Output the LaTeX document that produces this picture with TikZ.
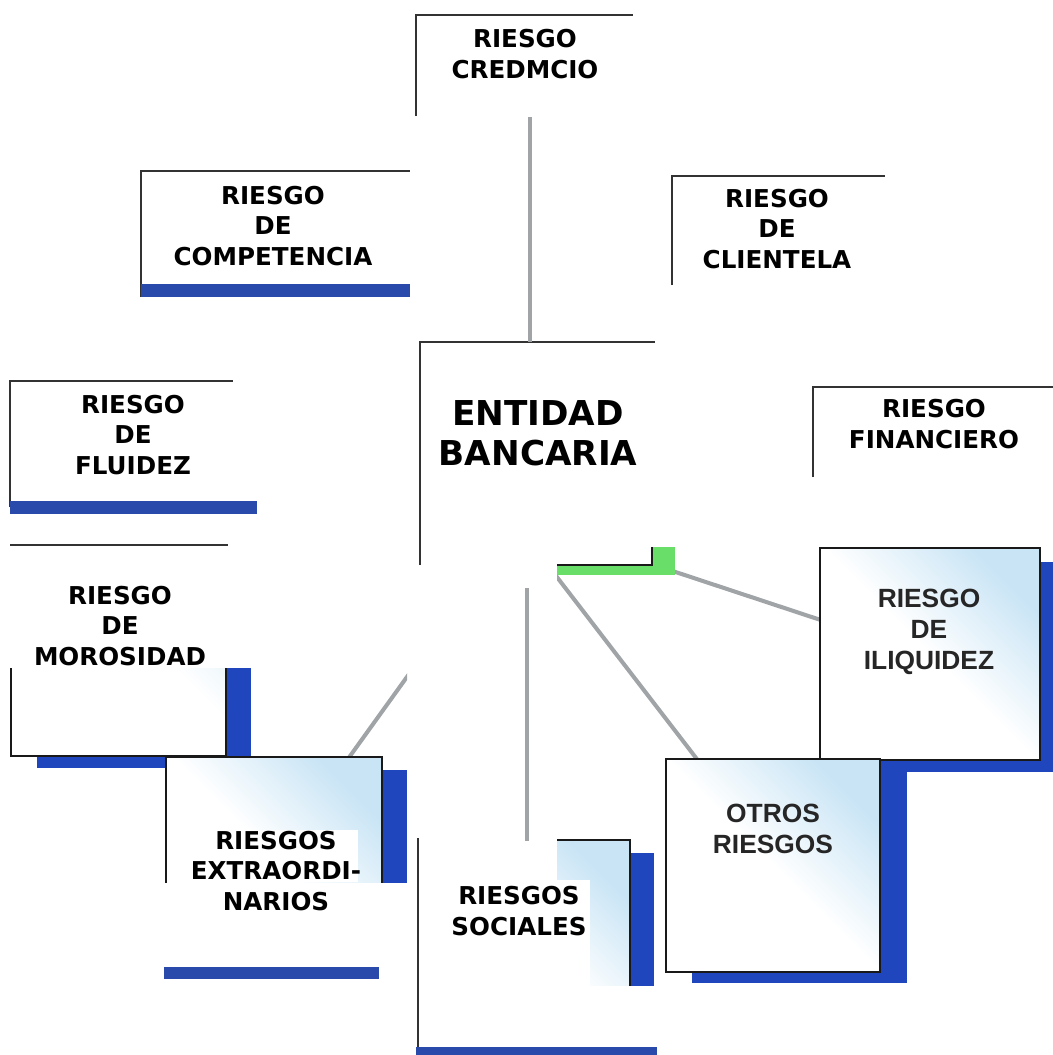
\documentclass[tikz,border=0pt]{standalone}
\usepackage{fontspec}
\setmainfont{DejaVu Sans}
\newfontfamily\scanfont{Liberation Sans}
\usetikzlibrary{fit}

\definecolor{bandblue}{RGB}{41,74,170}
\definecolor{shadeblue}{RGB}{32,70,190}
\definecolor{linkgray}{RGB}{160,164,167}
\definecolor{cornergreen}{RGB}{105,222,105}
\definecolor{paleblue}{RGB}{200,228,245}

\begin{document}
\begin{tikzpicture}[
    x=0.02cm, y=-0.02cm,
    risk/.style={font=\bfseries\fontsize{14}{17.5}\selectfont, align=center, inner sep=0pt},
    core/.style={font=\bfseries\fontsize{19.5}{23}\selectfont, align=center, inner sep=0pt},
    scanned/.style={font=\scanfont\bfseries\fontsize{15}{17.5}\selectfont, align=center, inner sep=0pt, text=black!85},
    openframe/.style={draw=black!80, line width=0.9pt},
    band/.style={fill=bandblue},
    blueshade/.style={fill=shadeblue},
    link/.style={draw=linkgray, line width=2.6pt},
    scanlink/.style={draw=linkgray, line width=2.3pt},
    card/.style={draw=black!90, line width=0.9pt, inner sep=0pt,
        top color=paleblue, bottom color=white, middle color=white, shading angle=-45}
]
\useasboundingbox (0,0) rectangle (1053,1055);

% Open frames
\draw[openframe] (416,116) |- (633,15);
\draw[openframe] (141,297) |- (410,171);
\draw[openframe] (672,285) |- (885,176);
\draw[openframe] (10,507) |- (233,381);
\draw[openframe] (813,477) |- (1053,387);
\draw[openframe] (420,565) |- (655,342);
\draw[openframe] (10,545) -- (228,545);
\draw[openframe] (418,1048) -- (418,838);

% Blue bands
\fill[band] (141,284) rectangle (410,297);
\fill[band] (10,501) rectangle (257,514);
\fill[band] (164,967) rectangle (379,979);
\fill[band] (416,1047) rectangle (657,1055);

% Stems
\coordinate (credit-foot) at (530,117);
\coordinate (bank-head) at (530,342);
\coordinate (bank-foot) at (527,588);
\coordinate (social-head) at (527,841);
\draw[link] (credit-foot) -- (bank-head);
\draw[link] (bank-foot) -- (social-head);

% Left scanned piece
\begin{scope}
  \clip (10,668) rectangle (407,882);
  \coordinate (extra-tie) at (340,770);
  \coordinate (extra-far) at (440,631);
  \draw[scanlink] (extra-far) -- (extra-tie);
  \fill[blueshade] (37,572) rectangle (251,768);
  \node[card, fit={(11,470) (226,756)}] (delinq-card) {};
  \fill[blueshade] (192,770) rectangle (407,895);
  \node[card, fit={(166,757) (382,960)}] (extra-card) {};
\end{scope}
\fill[white] (195,830) rectangle (358,882);

% Right scanned piece
\begin{scope}
  \clip (557,547) rectangle (1053,985);
  \coordinate (green-tie) at (600,547);
  \coordinate (illiq-tie) at (860,633);
  \coordinate (other-far) at (530,542);
  \coordinate (other-tie) at (713,780);
  \draw[scanlink] (green-tie) -- (illiq-tie);
  \draw[scanlink] (other-far) -- (other-tie);
  \fill[cornergreen] (475,360) rectangle (675,575);
  \node[card, fit={(450,350) (652,565)}] (green-card) {};
  \fill[blueshade] (466,853) rectangle (654,1060);
  \node[card, fit={(440,840) (630,1050)}] (social-card) {};
  \fill[blueshade] (847,562) rectangle (1066,772);
  \node[card, fit={(820,548) (1040,760)}] (illiq-card) {};
  \fill[blueshade] (692,772) rectangle (907,983);
  \node[card, fit={(666,759) (880,972)}] (other-card) {};
  \fill[white] (540,880) rectangle (590,990);
\end{scope}

% Labels
\node[risk] (credit) at (525,54) {RIESGO\\CREDMCIO};
\node[risk] (competition) at (273,226) {RIESGO\\DE\\COMPETENCIA};
\node[risk] (clientele) at (777,229) {RIESGO\\DE\\CLIENTELA};
\node[risk] (fluidity) at (133,435) {RIESGO\\DE\\FLUIDEZ};
\node[risk] (financial) at (934,424) {RIESGO\\FINANCIERO};
\node[core] (bank) at (538,433) {ENTIDAD\\BANCARIA};
\node[risk] (delinquency) at (120,626) {RIESGO\\DE\\MOROSIDAD};
\node[risk] (extraordinary) at (276,871) {RIESGOS\\EXTRAORDI-\\NARIOS};
\node[risk] (social) at (519,911) {RIESGOS\\SOCIALES};
\node[scanned] (illiquidity) at (929,632) {RIESGO\\DE\\ILIQUIDEZ};
\node[scanned] (others) at (773,829) {OTROS\\RIESGOS};

\end{tikzpicture}
\end{document}
